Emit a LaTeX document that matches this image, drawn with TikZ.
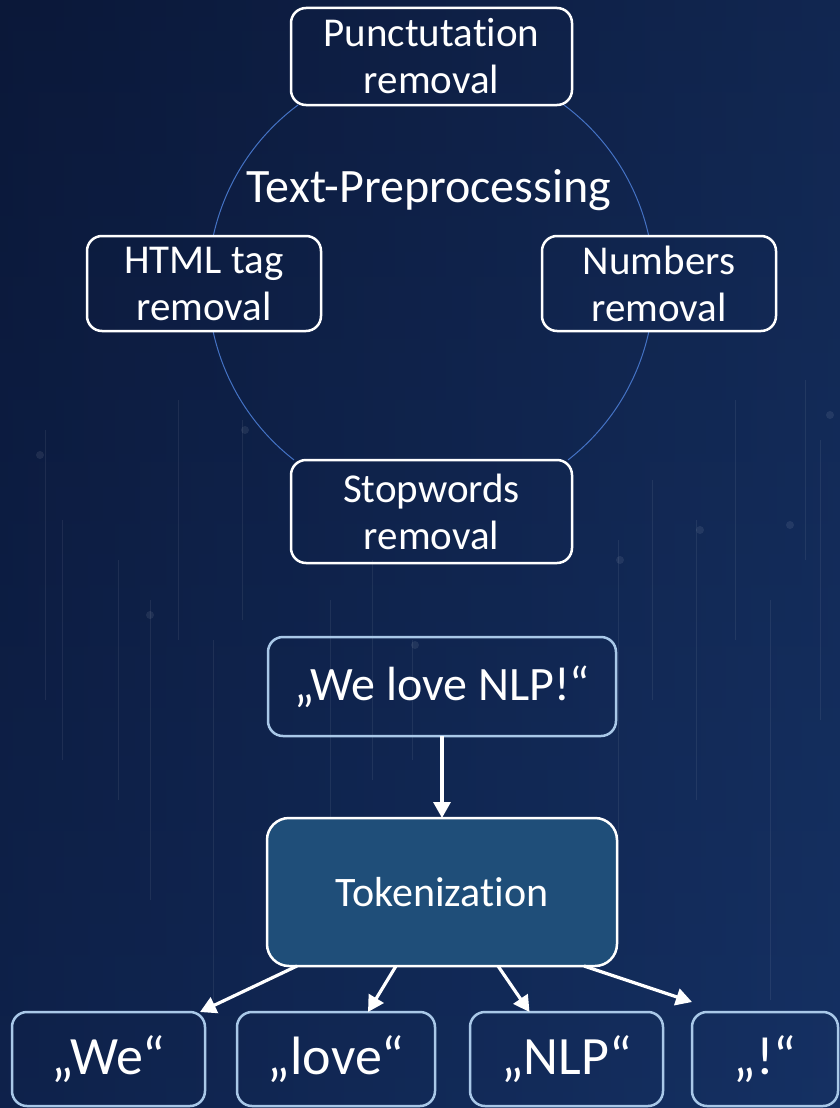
\documentclass[tikz,border=0pt]{standalone}
\usepackage{fontspec}
\setmainfont{Carlito}[Ligatures=NoCommon]
\usetikzlibrary{arrows.meta,calc}
\definecolor{bgdark}{HTML}{0B1839}
\definecolor{bgmid}{HTML}{112A5A}
\definecolor{bglight}{HTML}{1A396E}
\definecolor{circblue}{HTML}{4472C4}
\definecolor{paleedge}{HTML}{A9C8E8}
\definecolor{tokfill}{HTML}{1F4E79}
\tikzset{
  whitebox/.style={draw=white, line width=2.5pt, rounded corners=15pt, text=white,
    align=center, inner sep=0pt, outer sep=0pt,
    font=\fontsize{41}{47}\selectfont},
  palebox/.style={draw=paleedge, line width=2.5pt, rounded corners=15pt, text=white,
    align=center, inner sep=0pt, outer sep=0pt},
  tokbox/.style={draw=white, fill=tokfill, line width=2.5pt, rounded corners=22pt,
    text=white, inner sep=0pt, outer sep=0pt, font=\fontsize{42}{48}\selectfont},
  flow/.style={draw=white, line width=3.2pt, -{Triangle[length=16pt,width=17pt]}},
  ring/.style={draw=circblue, line width=1pt},
  deco/.style={draw=white, opacity=0.07, line width=1pt}
}
\begin{document}
\begin{tikzpicture}[x=1pt,y=-1pt]
\useasboundingbox (0,0) rectangle (840,1108);
% background
\shade[left color=bgdark, right color=bglight] (0,0) rectangle (840,1108);
\shade[top color=bgdark, bottom color=bgmid, opacity=0.55] (0,0) rectangle (840,1108);
% faint background decoration
\foreach \xx/\ya/\yb in {45/430/700, 62/520/760, 118/560/800, 150/600/900, 178/400/640, 213/640/1000, 242/420/620, 330/600/820, 372/560/780, 412/640/760, 618/540/900, 652/480/700, 696/520/800, 735/400/640, 770/600/1000, 805/380/560, 820/440/720}
  \draw[deco] (\xx,\ya) -- (\xx,\yb);
\foreach \xx/\yy in {40/455, 150/615, 245/430, 415/645, 620/560, 700/530, 790/525, 830/415}
  \fill[white,opacity=0.08] (\xx,\yy) circle (4);
% ring arcs between the boxes
\draw[ring] ($(431,284)+(-53.4:223)$) arc[start angle=-53.4, end angle=-12.4, radius=223];
\draw[ring] ($(431,284)+(12.2:223)$) arc[start angle=12.2, end angle=52.1, radius=223];
\draw[ring] ($(431,284)+(127.9:223)$) arc[start angle=127.9, end angle=167.8, radius=223];
\draw[ring] ($(431,284)+(192.4:223)$) arc[start angle=192.4, end angle=233.4, radius=223];
% preprocessing boxes
\node[whitebox, minimum width=281pt, minimum height=97pt] (punct) at (431.5,56.5) {Punctutation\\removal};
\node[whitebox, minimum width=234pt, minimum height=95pt] (html) at (204,283.5) {HTML tag\\removal};
\node[whitebox, minimum width=234pt, minimum height=95pt] (numb) at (659,283.5) {Numbers\\removal};
\node[whitebox, minimum width=281pt, minimum height=103pt] (stop) at (431.5,511.5) {Stopwords\\removal};
\node[text=white, inner sep=0pt, font=\fontsize{48}{54}\selectfont] (title) at (429,190) {Text-Preprocessing};
% tokenization
\node[palebox, minimum width=348pt, minimum height=99pt, font=\fontsize{48}{54}\selectfont] (sent) at (442,686.5) {„We love NLP!“};
\node[tokbox, minimum width=350pt, minimum height=148pt] (tok) at (442,892) {Tokenization};
\node[palebox, minimum width=193pt, minimum height=94pt, font=\fontsize{54}{60}\selectfont] (w1) at (108.5,1059) {„We“};
\node[palebox, minimum width=198pt, minimum height=94pt, font=\fontsize{54}{60}\selectfont] (w2) at (336,1059) {„love“};
\node[palebox, minimum width=193pt, minimum height=94pt, font=\fontsize{54}{60}\selectfont] (w3) at (566.5,1059) {„NLP“};
\node[palebox, minimum width=146pt, minimum height=94pt, font=\fontsize{54}{60}\selectfont] (w4) at (765,1059) {„!“};
% connectors
\draw[flow] (sent.south) -- (tok.north);
\draw[flow] ([xshift=-145pt]tok.south) -- ([xshift=-5pt]w1.north east);
\draw[flow] ([xshift=-46pt]tok.south) -- ([xshift=32pt]w2.north);
\draw[flow] ([xshift=56pt]tok.south) -- ([xshift=-37pt]w3.north);
\draw[flow] ([xshift=142pt]tok.south) -- ([yshift=10pt]w4.north west);
\end{tikzpicture}
\end{document}
